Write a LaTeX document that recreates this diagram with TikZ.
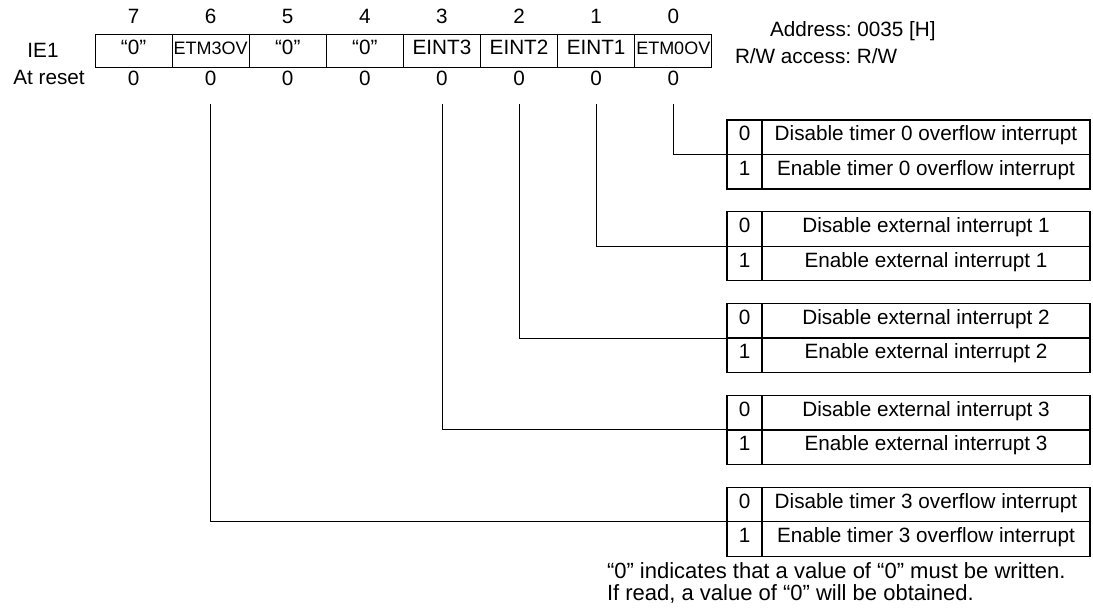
\documentclass[tikz,border=0pt]{standalone}
\usepackage{fontspec}
\setmainfont{Liberation Sans}
\frenchspacing
\begin{document}
\begin{tikzpicture}[x=1pt,y=-1pt,
  every node/.style={inner sep=0pt, outer sep=0pt, font=\fontsize{20.7}{24}\selectfont, text height=0.72em, text depth=0pt},
  small/.style={font=\fontsize{18}{20}\selectfont},
  cell/.style={draw, line width=0.9pt, minimum width=77.1pt, minimum height=33pt},
  num/.style={draw, line width=1.3pt, minimum width=35pt, minimum height=34.5pt},
  desc/.style={draw, line width=1.3pt, minimum width=328pt, minimum height=34.5pt},
  conn/.style={line width=0.9pt},
  foot/.style={anchor=west, font=\fontsize{22}{24}\selectfont},
]
\useasboundingbox (0,0) rectangle (1093,616);

% register cells
\node[cell] (b7) at (133.55,50.5) {“0”};
\node[cell,small] (b6) at (210.65,50.5) {ETM3OV};
\node[cell] (b5) at (287.75,50.5) {“0”};
\node[cell] (b4) at (364.85,50.5) {“0”};
\node[cell] (b3) at (441.95,50.5) {EINT3};
\node[cell] (b2) at (519.05,50.5) {EINT2};
\node[cell] (b1) at (596.15,50.5) {EINT1};
\node[cell,small] (b0) at (673.25,50.5) {ETM0OV};

% bit numbers
\node (n7) at (133.55,20) {7};
\node (n6) at (210.65,20) {6};
\node (n5) at (287.75,20) {5};
\node (n4) at (364.85,20) {4};
\node (n3) at (441.95,20) {3};
\node (n2) at (519.05,20) {2};
\node (n1) at (596.15,20) {1};
\node (n0) at (673.25,20) {0};

% reset values
\node (r7) at (133.55,82) {0};
\node (r6) at (210.65,82) {0};
\node (r5) at (287.75,82) {0};
\node (r4) at (364.85,82) {0};
\node (r3) at (441.95,82) {0};
\node (r2) at (519.05,82) {0};
\node (r1) at (596.15,82) {0};
\node (r0) at (673.25,82) {0};

\node (ie1) at (43,54) {IE1};
\node (atreset) at (49,81) {At reset};
\node[anchor=west] (addr) at (770,33) {Address: 0035 [H]};
\node[anchor=west] (rw) at (735,60) {R/W access: R/W};

% tables
\node[num] (t1n0) at (744.5,137.25) {0};
\node[desc] (t1d0) at (926,137.25) {Disable timer 0 overflow interrupt};
\node[num] (t1n1) at (744.5,171.75) {1};
\node[desc] (t1d1) at (926,171.75) {Enable timer 0 overflow interrupt};

\node[num] (t2n0) at (744.5,229.05) {0};
\node[desc] (t2d0) at (926,229.05) {Disable external interrupt 1};
\node[num] (t2n1) at (744.5,263.55) {1};
\node[desc] (t2d1) at (926,263.55) {Enable external interrupt 1};

\node[num] (t3n0) at (744.5,320.85) {0};
\node[desc] (t3d0) at (926,320.85) {Disable external interrupt 2};
\node[num] (t3n1) at (744.5,355.35) {1};
\node[desc] (t3d1) at (926,355.35) {Enable external interrupt 2};

\node[num] (t4n0) at (744.5,412.65) {0};
\node[desc] (t4d0) at (926,412.65) {Disable external interrupt 3};
\node[num] (t4n1) at (744.5,447.15) {1};
\node[desc] (t4d1) at (926,447.15) {Enable external interrupt 3};

\node[num] (t5n0) at (744.5,504.45) {0};
\node[desc] (t5d0) at (926,504.45) {Disable timer 3 overflow interrupt};
\node[num] (t5n1) at (744.5,538.95) {1};
\node[desc] (t5d1) at (926,538.95) {Enable timer 3 overflow interrupt};

% connector start points
\coordinate (s0) at (673.25,104);
\coordinate (s1) at (596.15,104);
\coordinate (s2) at (519.05,104);
\coordinate (s3) at (441.95,104);
\coordinate (s6) at (210.65,104);

\draw[conn] (s0) |- (t1n0.south west);
\draw[conn] (s1) |- (t2n0.south west);
\draw[conn] (s2) |- (t3n0.south west);
\draw[conn] (s3) |- (t4n0.south west);
\draw[conn] (s6) |- (t5n0.south west);

% footer
\node[foot] (f1) at (607,575) {“0” indicates that a value of “0” must be written.};
\node[foot] (f2) at (607,597) {If read, a value of “0” will be obtained.};
\end{tikzpicture}
\end{document}
